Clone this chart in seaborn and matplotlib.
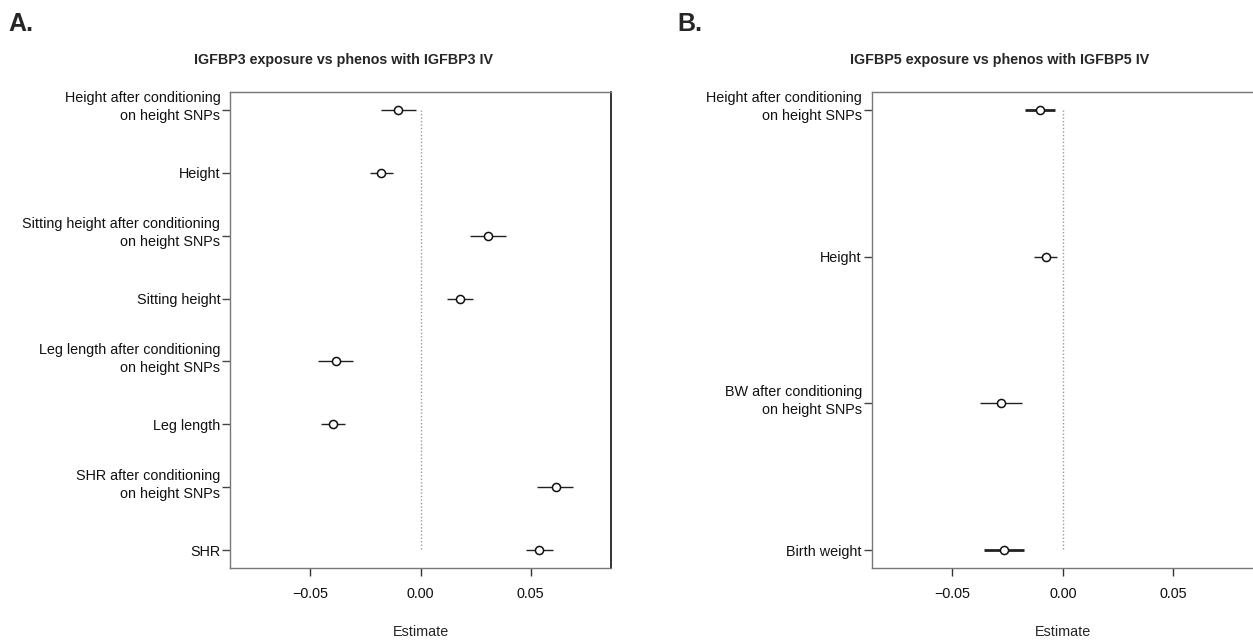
import matplotlib.pyplot as plt
import matplotlib.transforms as mtransforms
import numpy as np
import pandas as pd
import seaborn as sns

sns.set_style("white")
plt.rcParams["font.family"] = ["Liberation Sans", "DejaVu Sans"]

# Panel A: IGFBP3 instrument
a_labels = [
    "Height after conditioning\non height SNPs",
    "Height",
    "Sitting height after conditioning\non height SNPs",
    "Sitting height",
    "Leg length after conditioning\non height SNPs",
    "Leg length",
    "SHR after conditioning\non height SNPs",
    "SHR",
]
a_est = [-0.0100, -0.0178, 0.0308, 0.0180, -0.0385, -0.0398, 0.0614, 0.0539]
a_lo = [-0.0181, -0.0231, 0.0226, 0.0120, -0.0466, -0.0454, 0.0531, 0.0477]
a_hi = [-0.0021, -0.0127, 0.0388, 0.0237, -0.0306, -0.0344, 0.0694, 0.0600]

# Panel B: IGFBP5 instrument
b_labels = [
    "Height after conditioning\non height SNPs",
    "Height",
    "BW after conditioning\non height SNPs",
    "Birth weight",
]
b_est = [-0.0101, -0.0076, -0.0278, -0.0266]
b_lo = [-0.0171, -0.0129, -0.0375, -0.0357]
b_hi = [-0.0035, -0.0026, -0.0186, -0.0175]

FS = 10.4


def forest(ax, labels, est, lo, hi, ci_lw):
    df = pd.DataFrame({"label": labels, "est": est, "lo": lo, "hi": hi})
    df["pos"] = np.arange(len(df))
    n = len(df)

    ax.vlines(0, 0, n - 1, colors="#9a9a9a", linestyles=(0, (1, 1.5)), lw=1, zorder=1)
    ax.hlines(df["pos"], df["lo"], df["hi"], colors="#222222", lw=ci_lw, zorder=2)
    sns.scatterplot(
        data=df, x="est", y="pos", ax=ax, s=34, marker="o",
        facecolor="white", edgecolor="#111111", linewidth=1.1, zorder=3,
    )

    pad = 0.04 * (n - 1)
    ax.set_ylim(n - 1 + pad, -pad)
    ax.set_xlim(-0.0865, 0.0865)
    ax.set_xticks([-0.05, 0.0, 0.05])
    ax.set_xticklabels(["\u22120.05", "0.00", "0.05"])
    ax.set_yticks(df["pos"])
    ax.set_yticklabels(df["label"], fontsize=FS, color="#111111")
    ax.set(xlabel="Estimate", ylabel="")
    ax.xaxis.label.set_size(FS)
    ax.xaxis.labelpad = 17
    ax.tick_params(axis="x", length=6, width=1, pad=8, labelsize=FS,
                   color="#333333", labelcolor="#111111", bottom=True)
    ax.tick_params(axis="y", length=6, width=1, pad=1, color="#444444", left=True)

    shift = mtransforms.ScaledTranslation(0, 6 / 100, ax.figure.dpi_scale_trans)
    for t in ax.get_yticklabels():
        if "\n" in t.get_text():
            t.set_linespacing(1.38)
            t.set_transform(t.get_transform() + shift)

    for side in ["left", "bottom", "top"]:
        ax.spines[side].set_color("#777777")
        ax.spines[side].set_linewidth(1)
    ax.spines["right"].set_color("#111111")
    ax.spines["right"].set_linewidth(1.2)


fig = plt.figure(figsize=(12.53, 6.4), dpi=100)
ax_a = fig.add_axes([0.1836, 0.1125, 0.3040, 0.7437])
ax_b = fig.add_axes([0.6957, 0.1125, 0.3050, 0.7437])

forest(ax_a, a_labels, a_est, a_lo, a_hi, 1.0)
forest(ax_b, b_labels, b_est, b_lo, b_hi, [2.0, 1.0, 1.0, 2.0])

fig.text(0.2745, 0.906, "IGFBP3 exposure vs phenos with IGFBP3 IV",
         ha="center", va="center", fontsize=10.3, fontweight="bold")
fig.text(0.798, 0.906, "IGFBP5 exposure vs phenos with IGFBP5 IV",
         ha="center", va="center", fontsize=10.3, fontweight="bold")
fig.text(0.007, 0.963, "A.", ha="left", va="center", fontsize=18, fontweight="bold")
fig.text(0.541, 0.963, "B.", ha="left", va="center", fontsize=18, fontweight="bold")

fig.savefig("out.png", dpi=100)
